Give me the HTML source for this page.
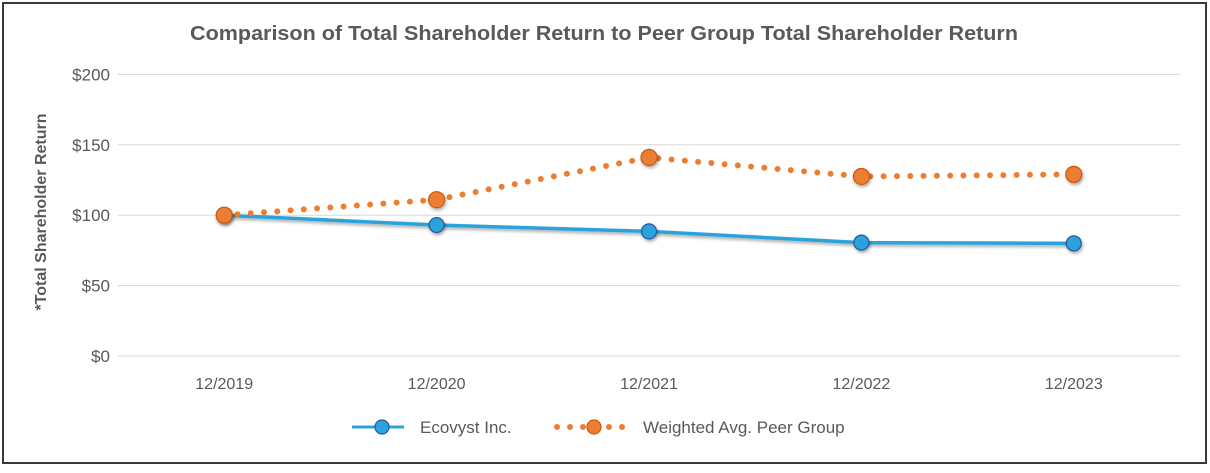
<!DOCTYPE html>
<html><head><meta charset="utf-8"><style>
body{margin:0;background:#fff;width:1210px;height:468px;overflow:hidden}
svg{font-family:"Liberation Sans",Arial,sans-serif}
</style></head><body>
<svg width="1210" height="468">
<defs><filter id="sh" x="-50%" y="-50%" width="200%" height="200%"><feDropShadow dx="1" dy="2" stdDeviation="1.5" flood-opacity="0.35"/></filter></defs>
<rect x="3" y="3" width="1203" height="460" fill="#fff" stroke="#3a3a3a" stroke-width="2"/>
<text x="604" y="40" text-anchor="middle" font-size="20.5" font-weight="bold" fill="#595959" textLength="828" lengthAdjust="spacingAndGlyphs">Comparison of Total Shareholder Return to Peer Group Total Shareholder Return</text>
<text transform="translate(46,212) rotate(-90)" text-anchor="middle" font-size="16" font-weight="bold" fill="#595959">*Total Shareholder Return</text>
<g id="grid"></g><g id="series"></g>
<g>
<line x1="352" y1="427" x2="404" y2="427" stroke="#29a3dd" stroke-width="3"/>
<circle cx="382" cy="427" r="7" fill="#29a3dd" stroke="#2f5597" stroke-width="1.2"/>
<text x="420" y="433" font-size="17" fill="#595959">Ecovyst Inc.</text>
<line x1="557" y1="427" x2="627" y2="427" stroke="#ed7d31" stroke-width="6" stroke-dasharray="0 13" stroke-linecap="round"/>
<circle cx="594" cy="427" r="7" fill="#ed7d31" stroke="#c55a11" stroke-width="1.2"/>
<text x="643" y="433" font-size="17" fill="#595959">Weighted Avg. Peer Group</text>
</g>
</svg>
<script>
const categories=["12/2019","12/2020","12/2021","12/2022","12/2023"];
const ecovyst=[100,93,88.5,80.5,80];
const peer=[100,111,141,127.5,129];
const yTicks=[0,50,100,150,200];
const yTickLabels=["$0","$50","$100","$150","$200"];
const NS="http://www.w3.org/2000/svg";
const L=118,W=1062,Y0=356,PX=70.4/50;
const x=i=>L+W/categories.length*(i+0.5);
const y=v=>Y0-v*PX;
function mk(t,a,p){const e=document.createElementNS(NS,t);for(const k in a)e.setAttribute(k,a[k]);p.appendChild(e);return e;}
const g=document.getElementById('grid'),s=document.getElementById('series');
yTicks.forEach((v,i)=>{
 const l=mk('line',{x1:L,x2:L+W,y1:y(v),y2:y(v),stroke:'#d9d9d9','stroke-width':1},g);
 
 
 const t=mk('text',{x:110,y:y(v)+6,'text-anchor':'end','font-size':17,fill:'#595959'},g);
 t.textContent=yTickLabels[i];
 
 
});
categories.forEach((c,i)=>{
 const t=mk('text',{x:x(i),y:389,'text-anchor':'middle','font-size':16,fill:'#595959'},g);
 t.textContent=c;
 
 
});
const pts=a=>a.map((v,i)=>x(i)+','+y(v)).join(' ');
const pl1=mk('polyline',{points:pts(ecovyst),fill:'none',stroke:'#29a3dd','stroke-width':3.5,filter:'url(#sh)'},s);


const pl2=mk('polyline',{points:pts(peer),fill:'none',stroke:'#ed7d31','stroke-width':6,'stroke-dasharray':'0 13.3','stroke-linecap':'round'},s);


ecovyst.forEach((v,i)=>{
 const c=mk('circle',{cx:x(i),cy:y(v),r:7.5,fill:'#29a3dd',stroke:'#2f5597','stroke-width':1.2,filter:'url(#sh)'},s);
 
 
});
peer.forEach((v,i)=>{
 const c=mk('circle',{cx:x(i),cy:y(v),r:8,fill:'#ed7d31',stroke:'#c55a11','stroke-width':1.2,filter:'url(#sh)'},s);
 
 
});
</script>
</body></html>
